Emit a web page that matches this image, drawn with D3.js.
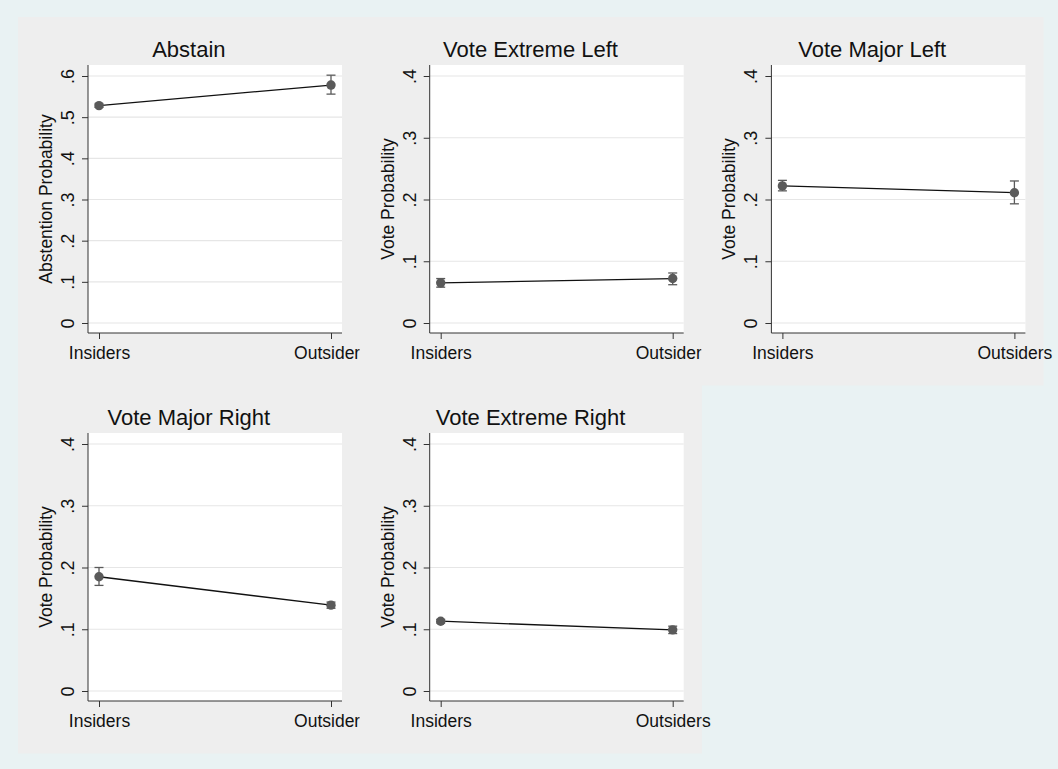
<!DOCTYPE html>
<html>
<head>
<meta charset="utf-8">
<script src="https://cdn.jsdelivr.net/npm/d3@7"></script>
<style>
  body { margin: 0; background: #e9f2f3; }
  svg { display: block; font-family: "Liberation Sans", Arial, sans-serif; }
</style>
</head>
<body>
<div id="chart"></div>
<script>
var width = 1058,
    height = 769;

// chart data
var titles = ["Abstain", "Vote Extreme Left", "Vote Major Left", "Vote Major Right", "Vote Extreme Right"];
var yTitles = ["Abstention Probability", "Vote Probability", "Vote Probability", "Vote Probability", "Vote Probability"];
var categories = ["Insiders", "Outsiders"];
var estimates = [[0.528, 0.578], [0.065, 0.072], [0.222, 0.211], [0.185, 0.139], [0.113, 0.099]];
var lower = [[0.524, 0.556], [0.058, 0.062], [0.214, 0.193], [0.171, 0.134], [0.110, 0.093]];
var upper = [[0.532, 0.602], [0.072, 0.081], [0.231, 0.230], [0.200, 0.144], [0.116, 0.105]];
var yTicks = [
    [0, 0.1, 0.2, 0.3, 0.4, 0.5, 0.6],
    [0, 0.1, 0.2, 0.3, 0.4],
    [0, 0.1, 0.2, 0.3, 0.4],
    [0, 0.1, 0.2, 0.3, 0.4],
    [0, 0.1, 0.2, 0.3, 0.4]
];

var gridLeft = 18, gridTop = 17,
    cellW = 341.7, cellH = 368;
var plotL = 70, plotR = 324, plotT = 48, plotB = 316;
var inset = 11;

var tickFmt = function (d) {
    if (d === 0) return "0";
    return d3.format(".1f")(d).replace(/^0/, "");
};

var svg = d3.select("#chart").append("svg")
    .attr("width", width)
    .attr("height", height);

svg.append("rect")
    .attr("width", width)
    .attr("height", height)
    .attr("fill", "#e9f2f3");

// each subgraph paints its own background, so a later one covers
// labels of the previous one that stick out (as in the original)
titles.forEach(function (title, p) {
    var col = p % 3, row = Math.floor(p / 3);
    var g = svg.append("g")
        .attr("transform", "translate(" + (gridLeft + col * cellW) + "," + (gridTop + row * cellH) + ")");

    g.append("rect")
        .attr("width", cellW + 0.5)
        .attr("height", cellH + 0.5)
        .attr("fill", "#eeeeee");

    g.append("rect")
        .attr("x", plotL)
        .attr("y", plotT)
        .attr("width", plotR - plotL)
        .attr("height", plotB - plotT)
        .attr("fill", "#ffffff");

    var x = d3.scalePoint()
        .domain(categories)
        .range([plotL + inset, plotR - inset]);

    var ticks = yTicks[p];
    var y = d3.scaleLinear()
        .domain([0, ticks[ticks.length - 1]])
        .range([plotB - 10, plotT + 11]);

    // gridlines
    g.selectAll(".grid")
        .data(ticks)
        .enter().append("line")
        .attr("x1", plotL)
        .attr("x2", plotR)
        .attr("y1", function (d) { return y(d); })
        .attr("y2", function (d) { return y(d); })
        .attr("stroke", "#e6e6e6")
        .attr("stroke-width", 1.2);

    // y axis
    var yAxis = d3.axisLeft(y)
        .tickValues(ticks)
        .tickFormat(tickFmt)
        .tickSize(6);
    var ya = g.append("g")
        .attr("transform", "translate(" + plotL + ",0)")
        .call(yAxis);
    ya.attr("font-family", null);
    ya.select(".domain")
        .attr("d", "M0," + plotT + "V" + plotB)
        .attr("stroke", "#333333");
    ya.selectAll(".tick line").attr("stroke", "#333333");
    ya.selectAll(".tick text")
        .attr("font-size", 18)
        .attr("fill", "#111111")
        .attr("text-anchor", "middle")
        .attr("dy", 0)
        .attr("x", 0)
        .attr("y", 0)
        .attr("transform", "translate(-14,0) rotate(-90)");

    // x axis
    var xAxis = d3.axisBottom(x)
        .tickSize(6);
    var xa = g.append("g")
        .attr("transform", "translate(0," + plotB + ")")
        .call(xAxis);
    xa.attr("font-family", null);
    xa.select(".domain")
        .attr("d", "M" + plotL + ",0H" + plotR)
        .attr("stroke", "#333333");
    xa.selectAll(".tick line").attr("stroke", "#333333");
    xa.selectAll(".tick text")
        .attr("font-size", 17.5)
        .attr("fill", "#111111")
        .attr("dy", 0)
        .attr("y", 26);

    // titles
    g.append("text")
        .attr("x", cellW / 2)
        .attr("y", 40)
        .attr("text-anchor", "middle")
        .attr("font-size", 22)
        .attr("fill", "#111111")
        .text(title);

    g.append("text")
        .attr("transform", "translate(34," + ((plotT + plotB) / 2) + ") rotate(-90)")
        .attr("text-anchor", "middle")
        .attr("font-size", 17.5)
        .attr("fill", "#111111")
        .text(yTitles[p]);

    var pts = categories.map(function (d, i) {
        return { cat: d, est: estimates[p][i], lo: lower[p][i], hi: upper[p][i] };
    });

    // connecting line
    g.append("path")
        .datum(pts)
        .attr("fill", "none")
        .attr("stroke", "#111111")
        .attr("stroke-width", 1.3)
        .attr("d", d3.line()
            .x(function (d) { return x(d.cat); })
            .y(function (d) { return y(d.est); }));

    // confidence intervals
    var ci = g.selectAll(".ci")
        .data(pts)
        .enter().append("g")
        .attr("stroke", "#5a5a5a")
        .attr("stroke-width", 1.3);
    ci.append("line")
        .attr("x1", function (d) { return x(d.cat); })
        .attr("x2", function (d) { return x(d.cat); })
        .attr("y1", function (d) { return y(d.lo); })
        .attr("y2", function (d) { return y(d.hi); });
    ci.append("line")
        .attr("x1", function (d) { return x(d.cat) - 4.5; })
        .attr("x2", function (d) { return x(d.cat) + 4.5; })
        .attr("y1", function (d) { return y(d.lo); })
        .attr("y2", function (d) { return y(d.lo); });
    ci.append("line")
        .attr("x1", function (d) { return x(d.cat) - 4.5; })
        .attr("x2", function (d) { return x(d.cat) + 4.5; })
        .attr("y1", function (d) { return y(d.hi); })
        .attr("y2", function (d) { return y(d.hi); });

    // markers
    g.selectAll(".pt")
        .data(pts)
        .enter().append("circle")
        .attr("cx", function (d) { return x(d.cat); })
        .attr("cy", function (d) { return y(d.est); })
        .attr("r", 4.7)
        .attr("fill", "#5a5a5a");
});
</script>
</body>
</html>
